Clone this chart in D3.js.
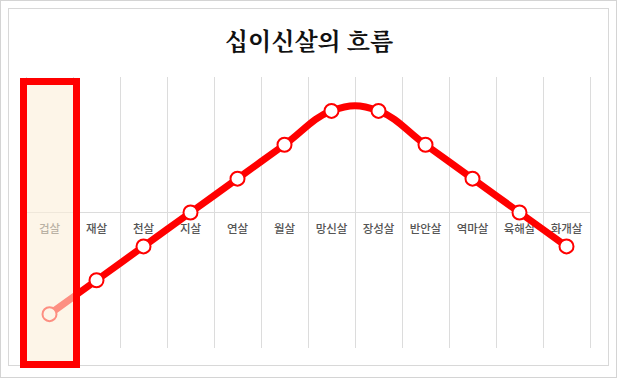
<!DOCTYPE html>
<html>
<head>
<meta charset="utf-8">
<script src="https://cdn.jsdelivr.net/npm/d3@7"></script>
<style>
  body { margin: 0; background: #fff; }
  svg { display: block; }
</style>
</head>
<body>
<svg id="chart" width="617" height="378"></svg>
<script>
// 십이신살 순서
const categories = ["겁살", "재살", "천살", "지살", "연살", "월살", "망신살", "장성살", "반안살", "역마살", "육해살", "화개살"];
// 흐름 값 (가운데 선 = 0)
const values = [-3, -2, -1, 0, 1, 2, 3, 3, 2, 1, 0, -1];
const yTicks = [0];
const highlighted = "겁살";

const svg = d3.select("#chart");
const W = 617, H = 378;

// 바깥 테두리, 안쪽 테두리
svg.append("rect")
    .attr("x", 0.5).attr("y", 0.5)
    .attr("width", W - 1).attr("height", H - 1)
    .attr("fill", "#fff")
    .attr("stroke", "#d4d4d4");
svg.append("rect")
    .attr("x", 8.5).attr("y", 8.5)
    .attr("width", 600).attr("height", 357)
    .attr("fill", "#fff")
    .attr("stroke", "#d8d8d8");

// 제목
svg.append("text")
    .attr("x", 309)
    .attr("y", 50)
    .attr("text-anchor", "middle")
    .style("font-family", "'Noto Serif CJK KR', 'Noto Sans CJK KR', serif")
    .style("font-size", "24px")
    .style("font-weight", "bold")
    .style("fill", "#111")
    .text("십이신살의 흐름");

// 스케일
let x = d3.scaleBand()
    .domain(categories)
    .range([26, 590])
    .padding(0);
let y = d3.scaleLinear()
    .domain([-4, 4])
    .range([348, 77]);
const cx = d => x(d) + x.bandwidth() / 2;

// 세로 격자
let gridX = categories.map(c => x(c)).concat([x.range()[1]]);
svg.append("g")
    .selectAll("line")
    .data(gridX)
    .enter()
    .append("line")
    .attr("x1", d => d).attr("x2", d => d)
    .attr("y1", y(4)).attr("y2", y(-4))
    .attr("stroke", "#dcdcdc")
    .attr("stroke-width", 1)
    .attr("shape-rendering", "crispEdges");

// 가로 격자
svg.append("g")
    .selectAll("line")
    .data(yTicks)
    .enter()
    .append("line")
    .attr("x1", x.range()[0]).attr("x2", x.range()[1])
    .attr("y1", d => y(d)).attr("y2", d => y(d))
    .attr("stroke", "#dcdcdc")
    .attr("shape-rendering", "crispEdges");

// 카테고리 라벨
svg.append("g")
    .selectAll("text")
    .data(categories)
    .enter()
    .append("text")
    .attr("x", d => cx(d))
    .attr("y", y(0) + 20)
    .attr("text-anchor", "middle")
    .style("font-family", "'Noto Sans CJK KR', sans-serif")
    .style("font-size", "11.5px")
    .style("font-weight", "500")
    .style("fill", "#555")
    .text(d => d);

// 선
let data = categories.map((c, i) => ({cat: c, v: values[i]}));
let line = d3.line()
    .x(d => cx(d.cat))
    .y(d => y(d.v))
    .curve(d3.curveCardinal.tension(-0.2));

svg.append("path")
    .datum(data)
    .attr("d", line)
    .attr("fill", "none")
    .attr("stroke", "#ff0000")
    .attr("stroke-width", 7)
    .attr("stroke-linejoin", "round")
    .attr("stroke-linecap", "round");

svg.append("g")
    .selectAll("circle")
    .data(data)
    .enter()
    .append("circle")
    .attr("cx", d => cx(d.cat))
    .attr("cy", d => y(d.v))
    .attr("r", 7)
    .attr("fill", "#fff")
    .attr("stroke", "#ff0000")
    .attr("stroke-width", 2);

// 강조 상자 (겁살)
let hx = x(highlighted);
svg.append("rect")
    .attr("x", hx - 2.5)
    .attr("y", 81.5)
    .attr("width", x.bandwidth() + 6)
    .attr("height", 283)
    .attr("fill", "#fcefd8")
    .attr("fill-opacity", 0.6)
    .attr("stroke", "none");
svg.append("rect")
    .attr("x", hx - 2.5)
    .attr("y", 81.5)
    .attr("width", x.bandwidth() + 6)
    .attr("height", 283)
    .attr("fill", "none")
    .attr("stroke", "#ff0000")
    .attr("stroke-width", 7);
</script>
</body>
</html>
